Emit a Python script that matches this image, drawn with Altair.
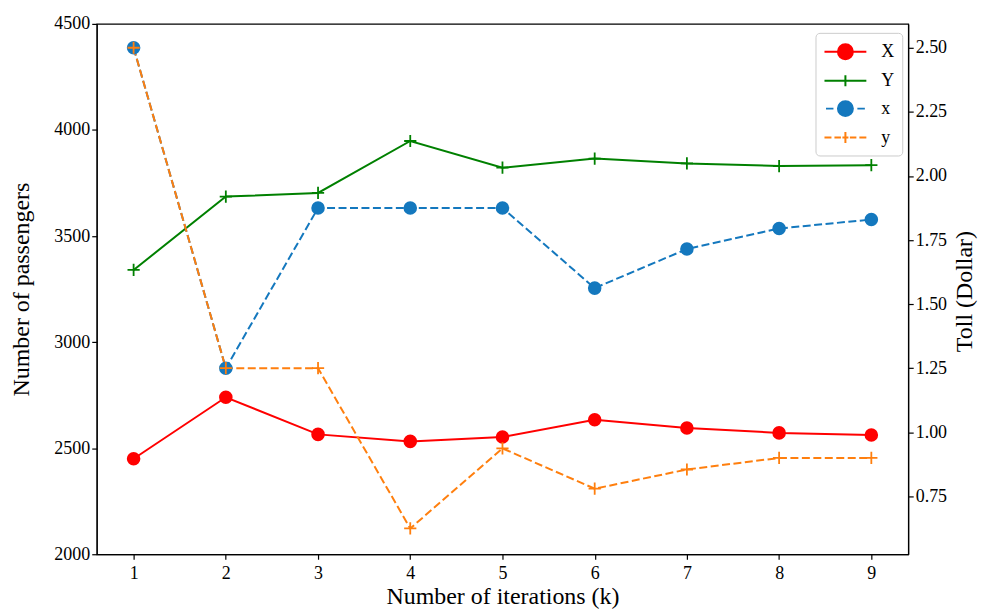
import altair as alt
import pandas as pd

# ---- data ----
iterations = [1, 2, 3, 4, 5, 6, 7, 8, 9]
X_passengers = [2450, 2740, 2565, 2532, 2553, 2634, 2595, 2572, 2562]
Y_passengers = [3340, 3686, 3703, 3948, 3822, 3865, 3842, 3830, 3834]
x_toll = [2.50, 1.25, 1.875, 1.875, 1.875, 1.5625, 1.715, 1.795, 1.83]
y_toll = [2.50, 1.25, 1.25, 0.625, 0.9375, 0.78, 0.855, 0.90, 0.90]

series_names = ["X", "Y", "x", "y"]
series_colors = ["#ff0000", "#008000", "#1478be", "#ff7f0e"]
left_ticks = [2000, 2500, 3000, 3500, 4000, 4500]
right_ticks = [0.75, 1.00, 1.25, 1.50, 1.75, 2.00, 2.25, 2.50]

left_df = pd.DataFrame({
    "k": iterations * 2,
    "series": ["X"] * 9 + ["Y"] * 9,
    "passengers": X_passengers + Y_passengers,
})
right_df = pd.DataFrame({
    "k": iterations * 2,
    "series": ["x"] * 9 + ["y"] * 9,
    "toll": x_toll + y_toll,
})

FONT = "Liberation Serif"
PLUS = "M-1,0L1,0M0,-1L0,1"
# legend glyphs (line + marker), drawn in a 10px unit, line spanning -1..3.2
CIRC = "M0.35,0A0.75,0.75,0,1,1,1.85,0A0.75,0.75,0,1,1,0.35,0Z"
legend_paths = [
    "M-1,0L3.2,0" + CIRC,
    "M-1,0L3.2,0M1.1,-0.55L1.1,0.55",
    "M-0.85,0L-0.1,0M2.3,0L3.05,0" + CIRC,
    "M-1,0L-0.3,0M0,0L0.65,0M0.8,0L1.4,0M1.55,0L2.2,0M2.5,0L3.2,0M1.1,-0.55L1.1,0.55",
]

x_enc = alt.X(
    "k:Q",
    scale=alt.Scale(domain=[0.6, 9.4], nice=False, zero=False),
    axis=alt.Axis(values=iterations, format="d", title="Number of iterations (k)",
                  labelPadding=5, titlePadding=2),
)
y_left = alt.Y(
    "passengers:Q",
    scale=alt.Scale(domain=[2000, 4500], nice=False, zero=False),
    axis=alt.Axis(orient="left", values=left_ticks, format="d", title="Number of passengers",
                  titleAngle=270, titleX=-75, titleY=266, titleAlign="center", titleBaseline="middle"),
)
y_right = alt.Y(
    "toll:Q",
    scale=alt.Scale(domain=[0.5244, 2.5931], nice=False, zero=False),
    axis=alt.Axis(orient="right", values=right_ticks, format=".2f", title="Toll (Dollar)",
                  titleAngle=270, titleX=56, titleY=268, titleAlign="center", titleBaseline="middle"),
)
color_enc = alt.Color("series:N", scale=alt.Scale(domain=series_names, range=series_colors), legend=None)

leg = alt.Legend(
    title=None, orient="none", legendX=721, legendY=9,
    symbolSize=400, symbolStrokeWidth=2, symbolOpacity=1,
    labelFont=FONT, labelFontSize=18, labelColor="black", labelOffset=36,
    rowPadding=6, padding=8, strokeColor="#cccccc", fillColor="white", cornerRadius=4,
)

base_l = alt.Chart(left_df)
lines_l = base_l.mark_line(strokeWidth=2).encode(x=x_enc, y=y_left, color=color_enc)
circ_l = base_l.mark_circle(size=185, opacity=1).encode(x=x_enc, y=y_left, color=color_enc).transform_filter(
    alt.datum.series == "X")
plus_l = base_l.mark_point(shape=PLUS, size=150, strokeWidth=1.8, filled=False, opacity=1).encode(
    x=x_enc, y=y_left, color=color_enc).transform_filter(alt.datum.series == "Y")
legend_layer = base_l.mark_point(filled=True, strokeWidth=2, size=0).encode(
    x=x_enc, y=y_left,
    fill=alt.Fill("series:N", scale=alt.Scale(domain=series_names, range=series_colors), legend=leg),
    stroke=alt.Stroke("series:N", scale=alt.Scale(domain=series_names, range=series_colors), legend=leg),
    shape=alt.Shape("series:N", scale=alt.Scale(domain=series_names, range=legend_paths), legend=leg),
)

base_r = alt.Chart(right_df)
lines_r = base_r.mark_line(strokeWidth=2, strokeDash=[8, 3.5]).encode(x=x_enc, y=y_right, color=color_enc)
circ_r = base_r.mark_circle(size=185, opacity=1).encode(x=x_enc, y=y_right, color=color_enc).transform_filter(
    alt.datum.series == "x")
plus_r = base_r.mark_point(shape=PLUS, size=150, strokeWidth=1.8, filled=False, opacity=1).encode(
    x=x_enc, y=y_right, color=color_enc).transform_filter(alt.datum.series == "y")

left_layer = alt.layer(legend_layer, lines_l, circ_l, plus_l)
right_layer = alt.layer(lines_r, circ_r, plus_r)

chart = alt.layer(left_layer, right_layer).resolve_scale(y="independent").properties(
    width=814, height=532,
    autosize=alt.AutoSizeParams(type="none"),
    padding={"left": 89, "top": 15, "right": 71, "bottom": 57},
).configure_view(
    stroke="black", strokeWidth=1.2
).configure_axis(
    grid=False, domainColor="black", domainWidth=1.2, tickColor="black", tickWidth=1.2, tickSize=5,
    labelColor="black", labelFont=FONT, labelFontSize=18, labelPadding=2,
    titleColor="black", titleFont=FONT, titleFontSize=24, titleFontWeight="normal",
)

chart.save("out.html", embed_options={"renderer": "svg", "actions": False})
